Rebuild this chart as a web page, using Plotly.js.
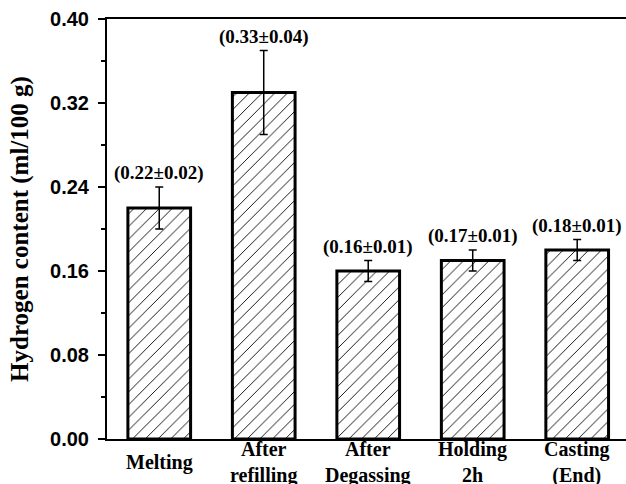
<!DOCTYPE html>
<html>
<head>
<meta charset="utf-8">
<script src="https://cdn.plot.ly/plotly-3.0.1.min.js"></script>
<style>html,body{margin:0;padding:0;background:#fff}#chart{width:626px;height:484px}</style>
</head>
<body>
<div id="chart"></div>
<script>
const categories = ["Melting", "After<br>refilling", "After<br>Degassing", "Holding<br>2h", "Casting<br>(End)"];
const values = [0.22, 0.33, 0.16, 0.17, 0.18];
const errors = [0.02, 0.04, 0.01, 0.01, 0.01];
const labels = ["(0.22±0.02)", "(0.33±0.04)", "(0.16±0.01)", "(0.17±0.01)", "(0.18±0.01)"];
const yTicks = [0, 0.08, 0.16, 0.24, 0.32, 0.40];
const yTickText = ["0.00", "0.08", "0.16", "0.24", "0.32", "0.40"];

const xIdx = categories.map((_, i) => i);
const serif = 'Liberation Serif, Times New Roman, serif';

const trace = {
  type: 'bar',
  x: xIdx,
  y: values,
  width: 0.6,
  marker: {
    color: 'white',
    line: {color: 'black', width: 3},
    pattern: {shape: '/', bgcolor: 'white', fgcolor: 'black', size: 9, solidity: 0.1}
  },
  error_y: {type: 'data', array: errors, visible: true, color: 'black', thickness: 1.5, width: 4},
  hoverinfo: 'none'
};

const valueNotes = labels.map((t, i) => ({
  x: xIdx[i], y: values[i] + errors[i], xref: 'x', yref: 'y',
  text: t, showarrow: false, yanchor: 'bottom', yshift: 1,
  font: {family: serif, size: 19, color: 'black', weight: 'bold'}
}));

// category labels, vertically centred below the axis like the reference
const catNotes = categories.map((t, i) => ({
  x: xIdx[i], y: -0.055, xref: 'x', yref: 'paper',
  text: t, showarrow: false, yanchor: 'middle', xanchor: 'center',
  font: {family: serif, size: 20, color: 'black', weight: 'bold'}
}));

const layout = {
  width: 626, height: 484,
  margin: {l: 107, r: 0, t: 19, b: 45},
  paper_bgcolor: 'white', plot_bgcolor: 'white',
  showlegend: false,
  xaxis: {
    range: [-0.5, 4.467],
    tickvals: xIdx, showticklabels: false,
    showline: true, linecolor: 'black', linewidth: 2, mirror: true,
    ticks: '', showgrid: false, zeroline: false, automargin: false
  },
  yaxis: {
    range: [0, 0.40],
    tickvals: yTicks, ticktext: yTickText,
    showline: true, linecolor: 'black', linewidth: 2,
    ticks: 'outside', ticklen: 7, tickwidth: 2, tickcolor: 'black',
    ticklabelstandoff: 5,
    minor: {dtick: 0.04, ticks: 'outside', ticklen: 4, tickwidth: 1.5, tickcolor: 'black', showgrid: false},
    showgrid: false, zeroline: false, automargin: false,
    tickfont: {family: 'Liberation Sans, Arial, sans-serif', size: 20, color: 'black', weight: 'bold'},
    title: {text: 'Hydrogen content (ml/100 g)', standoff: 14,
      font: {family: serif, size: 25, color: 'black', weight: 'bold'}}
  },
  annotations: valueNotes.concat(catNotes)
};

Plotly.newPlot('chart', [trace], layout, {staticPlot: true, displayModeBar: false});
</script>
</body>
</html>
